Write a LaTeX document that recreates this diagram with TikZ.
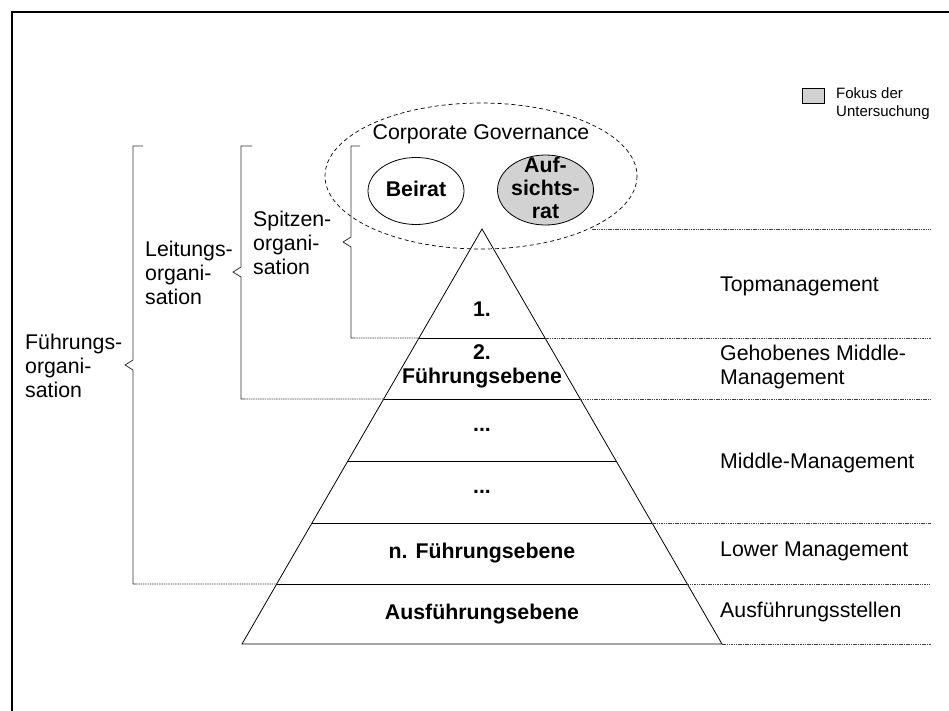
\documentclass[tikz,border=0pt]{standalone}
\usepackage{fontspec}
\setmainfont{Liberation Sans}
\usetikzlibrary{calc,shapes.geometric}
\definecolor{focusgray}{RGB}{210,210,210}
\newcommand{\bigtxt}{\fontsize{21.3}{24}\selectfont}
\newcommand{\bubbletxt}{\fontsize{21.3}{23}\selectfont}
\newcommand{\smalltxt}{\fontsize{15}{18}\selectfont}
\begin{document}
\begin{tikzpicture}[x=1pt,y=-1pt,
  txt/.style={font=\bigtxt, inner sep=0pt},
  boldtxt/.style={font=\bigtxt\bfseries, inner sep=0pt, align=center},
  sidetxt/.style={font=\bigtxt, inner sep=0pt, anchor=west, align=left},
  guide/.style={line width=0.7pt, black!75, dash pattern=on 1.5pt off 0.8pt},
  level/.style={line width=0.8pt},
  bracketline/.style={line width=0.8pt, black!80},
  govbubble/.style={ellipse, draw, line width=0.8pt, inner sep=0pt,
    minimum width=96pt, minimum height=67pt},
  bubbletext/.style={font=\bubbletxt\bfseries, inner sep=0pt, align=center}
]
\useasboundingbox (0,0) rectangle (949,710);

% outer frame (open to the right and bottom)
\draw[line width=2pt] (12,712) -- (12,12) -- (951,12);

% legend
\node[draw, fill=focusgray, line width=0.8pt, minimum width=22pt, minimum height=15pt, inner sep=0pt] (legbox) at (813,95.5) {};
\node[font=\smalltxt, anchor=west, align=left, inner sep=0pt] (legtxt) at (836,104) {Fokus der\\Untersuchung};

% corporate governance bubble
\draw[line width=0.7pt, dash pattern=on 4pt off 3pt] (481,176) ellipse [x radius=156, y radius=73];
\node[txt] (cg) at (481,134) {Corporate Governance};
\node[govbubble] (beirat) at (416,191) {};
\node[bubbletext] (beirattxt) at (416,189) {Beirat};
\node[govbubble, fill=focusgray, minimum height=70pt] (ar) at (545.5,190) {};
\node[bubbletext] (artxt) at (545.5,188) {Auf-\\sichts-\\rat};

% pyramid
\coordinate (apex) at (482,229);
\coordinate (bl) at (242,644);
\coordinate (br) at (722,644);
\foreach \n/\t in {1/0.26265,2/0.40964,3/0.55904,4/0.70843,5/0.85542}{
  \coordinate (L\n) at ($(apex)!\t!(bl)$);
  \coordinate (R\n) at ($(apex)!\t!(br)$);
}
\draw[level] (bl) -- (apex) -- (br) -- cycle;
\foreach \n in {1,...,5}{ \draw[level] (L\n) -- (R\n); }

% dotted guide lines to the right
\coordinate (gtop) at (592,229);
\coordinate (gtopE) at (931,229);
\draw[guide] (gtop) -- (gtopE);
\foreach \n in {1,2,4,5}{ \draw[guide] (R\n) -- (931,0 |- R\n); }
\draw[guide] (br) -- (931,644);

% brackets
\draw[bracketline] (143,146) -- (133,146) -- (133,360) -- (125,365) -- (133,370) -- (133,584) -- (136,584);
\draw[guide] (136,584) -- (L5);
\draw[bracketline] (252,146) -- (241,146) -- (241,267) -- (233,272) -- (241,277) -- (241,399) -- (244,399);
\draw[guide] (244,399) -- (L2);
\draw[bracketline] (360,146) -- (351,146) -- (351,237) -- (343,242) -- (351,247) -- (351,338) -- (354,338);
\draw[guide] (354,338) -- (L1);

% bracket labels
\node[sidetxt] (fo) at (25,366) {Führungs-\\organi-\\sation};
\node[sidetxt] (lo) at (145,273) {Leitungs-\\organi-\\sation};
\node[sidetxt] (so) at (253,243) {Spitzen-\\organi-\\sation};

% pyramid level labels
\node[boldtxt] (p1) at (482,309) {1.};
\node[boldtxt] (p2) at (482,366) {2.\\Führungsebene};
\node[boldtxt] (p3) at (482,430) {...};
\node[boldtxt] (p4) at (482,492) {...};
\node[boldtxt] (p5) at (482,553) {n. Führungsebene};
\node[boldtxt] (p6) at (482,614) {Ausführungsebene};

% management level labels
\node[sidetxt] (m1) at (720,286) {Topmanagement};
\node[sidetxt] (m2) at (720,367) {Gehobenes Middle-\\Management};
\node[sidetxt] (m3) at (720,463) {Middle-Management};
\node[sidetxt] (m4) at (720,551) {Lower Management};
\node[sidetxt] (m5) at (720,612) {Ausführungsstellen};
\end{tikzpicture}
\end{document}
